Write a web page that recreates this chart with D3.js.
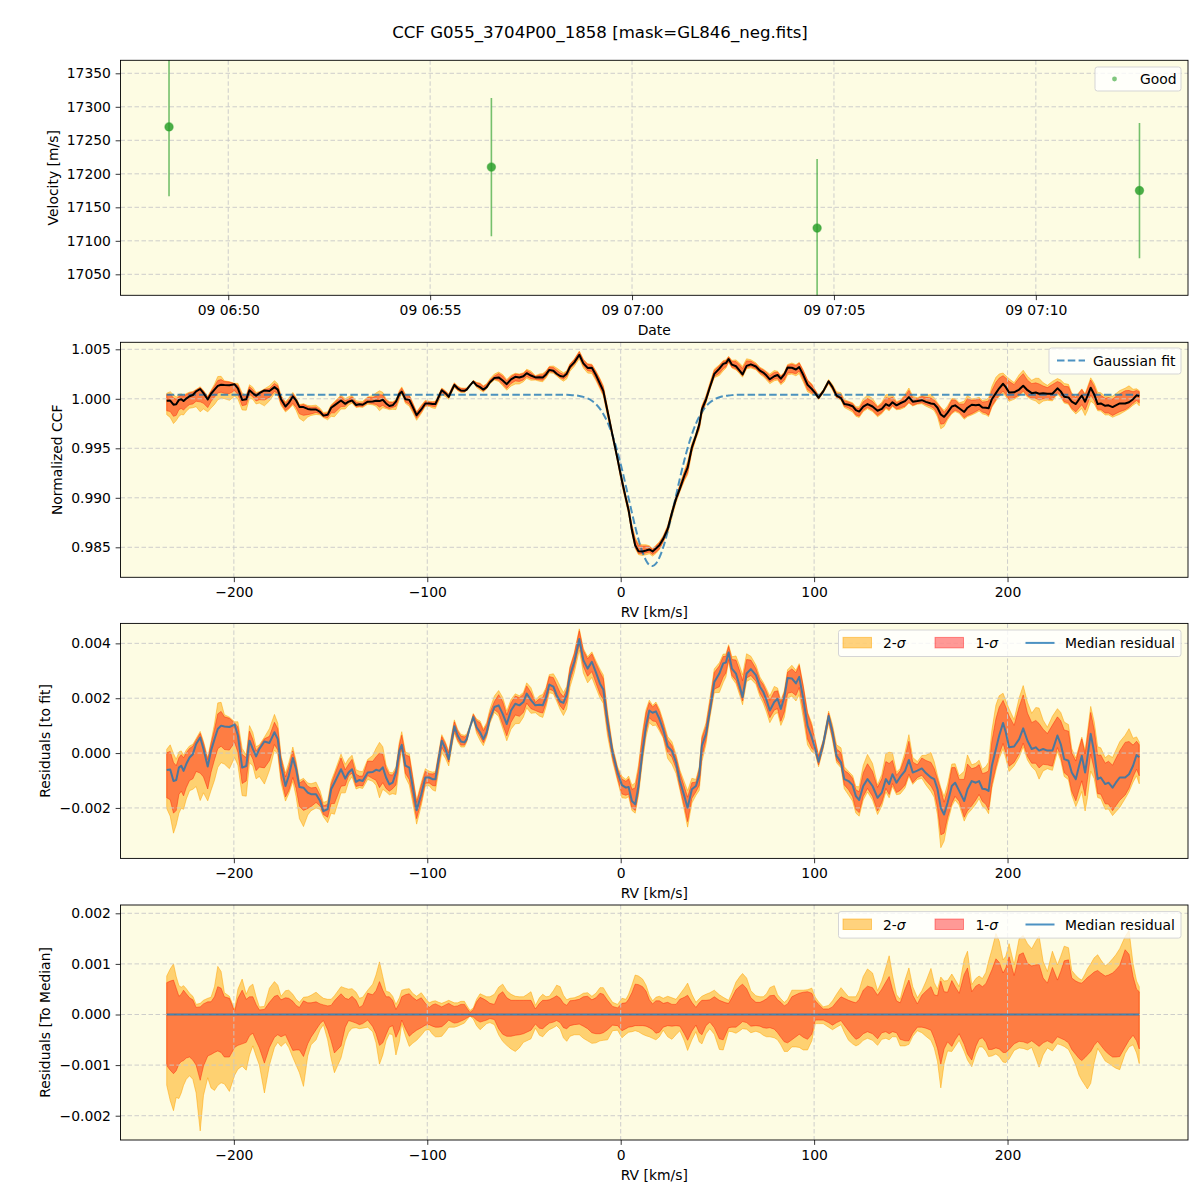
<!DOCTYPE html>
<html><head><meta charset="utf-8">
<script src="https://cdn.jsdelivr.net/npm/d3@7"></script>
<style>
body{margin:0;background:#fff;}
text{font-family:"DejaVu Sans",sans-serif;fill:#000;}
</style></head><body>
<svg id="chart" width="1200" height="1200"></svg>
<script>
// ---------------- DATA ----------------
const title = "CCF G055_3704P00_1858 [mask=GL846_neg.fits]";

// Top panel: RV time series
const obsTimes = ["2023-01-09T06:48:32Z","2023-01-09T06:56:31Z","2023-01-09T07:04:35Z","2023-01-09T07:12:34Z"];
const obsVel = [17270, 17210, 17119, 17175];
const obsErr = [103.5, 103, 103, 101];
const velTicks = [17050, 17100, 17150, 17200, 17250, 17300, 17350];

// RV grid [km/s]
const rv = [
-234.7,-232.9,-231.2,-229.8,-228.4,-227.2,-226,-224.6,-222.9,-221.2,
-219.5,-217.4,-215.7,-213.5,-211.8,-210,-208.3,-206.6,-204.9,-202.3,
-199.6,-197.9,-195.7,-193.6,-191.9,-190.2,-188.5,-186.8,-184.2,-181.6,
-179,-177.3,-175.6,-173.3,-171.6,-169.5,-167.8,-166.1,-164,-161.8,
-160.1,-157.5,-155.4,-153.7,-151.5,-149.7,-148,-144.6,-142.4,-140.7,
-138.9,-136.8,-135.1,-133.4,-130.8,-128.2,-126.5,-124.7,-123,-121.3,
-119.6,-117.9,-116.2,-114.4,-113.2,-111.3,-109.3,-107.6,-105.5,-103.1,
-101,-99,-97.3,-95.8,-94.1,-92.5,-90.6,-88.9,-87.2,-86,
-84.3,-82.6,-80.8,-79.6,-77.9,-76.2,-74.5,-72.7,-71,-69.3,
-67.6,-65.3,-63.1,-61,-58.9,-56.7,-54.5,-52.4,-50.3,-48.6,
-46.4,-44.1,-42,-40.3,-38.6,-36.9,-34.8,-33.1,-31.3,-29.6,
-27.9,-26.2,-24,-21.4,-19.3,-17.1,-14.9,-12.8,-10.7,-9,
-6.8,-4.2,-1.6,0.65,2.7,4.1,5.8,7.5,9.2,11.3,
13.1,14.8,16.5,18.2,20,22,24.3,26.5,28.6,30.6,
32.9,34.6,36.8,38.9,40.6,42,44.1,46.1,48.4,51,
53,54.4,55.8,57.5,59.6,61.6,63,65.1,67.3,69.9,
72,73.7,75.4,77.1,79.4,81.1,82.8,84.6,86.3,88.5,
90.6,92.3,94.4,96.6,98.8,100.6,102.3,104.7,107.5,109.5,
111.6,113.9,115.6,117.8,119.9,121.6,123.3,125.4,127.6,130.2,
132.8,135,137.1,138.8,140.5,142.6,144.5,147,149,151,
153.4,155.7,157.8,160.4,162.1,163.8,165.5,167.2,169,171.2,
172.9,175,177.6,179.3,181.5,183.6,185.3,187,188.8,190.2,
191.9,194,195.7,197.7,199.1,200.8,203.4,206,208.1,210.3,
212.5,214.6,216.3,218.4,220.6,223.2,225.8,227.5,229.3,231.5,
233.2,235.3,237,238.4,240.1,241.3,243,244.8,246.6,248.2,
250.5,252.2,254.3,256,258,260.8,262.8,264.9,266.7,268.1];

// Median normalized CCF
const ccfMedian = [
0.99980,0.99982,0.99940,0.99944,0.99989,0.99996,0.99977,1.00002,1.00026,1.00038,
1.00075,1.00099,1.00057,0.99993,1.00051,1.00093,1.00130,1.00142,1.00139,1.00137,
1.00146,1.00106,0.99989,0.99995,1.00087,1.00057,1.00030,1.00057,1.00084,1.00079,
1.00118,1.00093,0.99996,0.99922,0.99959,1.00024,0.99983,0.99918,0.99916,0.99898,
0.99892,0.99892,0.99867,0.99830,0.99838,0.99910,0.99934,0.99983,0.99949,0.99971,
0.99983,0.99937,0.99944,0.99940,0.99971,0.99973,0.99981,0.99977,0.99990,0.99953,
0.99928,0.99934,0.99971,1.00051,1.00072,0.99996,0.99989,0.99922,0.99834,0.99892,
0.99953,0.99953,0.99947,0.99947,1.00020,1.00087,1.00057,1.00020,1.00093,1.00140,
1.00106,1.00084,1.00081,1.00093,1.00136,1.00173,1.00136,1.00118,1.00093,1.00118,
1.00167,1.00210,1.00216,1.00185,1.00148,1.00197,1.00222,1.00216,1.00228,1.00259,
1.00235,1.00216,1.00218,1.00216,1.00246,1.00292,1.00284,1.00253,1.00230,1.00224,
1.00254,1.00322,1.00368,1.00445,1.00358,1.00312,1.00313,1.00240,1.00152,1.00080,
0.99875,0.99631,0.99390,0.99172,0.98992,0.98873,0.98674,0.98521,0.98460,0.98457,
0.98467,0.98478,0.98458,0.98487,0.98520,0.98585,0.98685,0.98849,0.98989,0.99093,
0.99223,0.99304,0.99508,0.99628,0.99737,0.99894,0.99993,1.00117,1.00252,1.00305,
1.00353,1.00361,1.00401,1.00345,1.00329,1.00283,1.00246,1.00332,1.00348,1.00326,
1.00284,1.00265,1.00235,1.00197,1.00228,1.00240,1.00203,1.00246,1.00316,1.00314,
1.00296,1.00320,1.00240,1.00142,1.00099,1.00057,1.00010,1.00075,1.00177,1.00118,
1.00032,1.00008,0.99947,0.99940,0.99925,0.99885,0.99871,0.99922,0.99947,0.99922,
0.99879,0.99898,0.99947,0.99929,0.99965,0.99934,0.99955,0.99977,1.00017,0.99971,
0.99978,0.99986,0.99969,0.99953,0.99947,0.99910,0.99842,0.99818,0.99861,0.99922,
0.99934,0.99904,0.99867,0.99910,0.99940,0.99934,0.99940,0.99912,0.99910,0.99904,
0.99996,1.00057,1.00106,1.00152,1.00118,1.00063,1.00066,1.00093,1.00132,1.00087,
1.00057,1.00063,1.00051,1.00057,1.00051,1.00051,1.00106,1.00075,1.00020,1.00014,
0.99971,0.99947,0.99996,1.00032,0.99971,1.00026,1.00112,1.00044,0.99947,0.99953,
0.99929,0.99934,0.99916,0.99934,0.99953,0.99953,0.99965,0.99996,1.00035,1.00027];

// Gaussian fit curve
const fitRv = [-234.7,-31.3,-29.6,-27.9,-26.2,-24,-21.4,-19.3,-17.1,-14.9,-12.8,-10.7,-9,-6.8,-4.2,-1.6,0.65,2.7,4.1,5.8,7.5,9.2,11.3,13.1,14.8,16.5,18.2,20,22,24.3,26.5,28.6,30.6,32.9,34.6,36.8,38.9,40.6,42,44.1,46.1,48.4,51,53,54.4,55.8,57.5,59.6,61.6,268.1];
const fitCcf = [1.00042,1.00042,1.000407,1.000399,1.000385,1.000354,1.000287,1.000194,1.000040,0.999801,0.999463,0.998987,0.998477,0.997621,0.996290,0.994605,0.992892,0.991178,0.989965,0.988493,0.987081,0.985796,0.984484,0.983674,0.983226,0.983110,0.983347,0.983950,0.985004,0.986610,0.988407,0.990226,0.991945,0.993795,0.995026,0.996404,0.997484,0.998192,0.998670,0.999233,0.999624,0.999933,1.000153,1.000257,1.000306,1.000342,1.000371,1.000394,1.000406,1.00042];

// Median residual to fit, in units of 1e-4
const residMedian = [
-6.2,-6,-10.2,-9.8,-5.3,-4.6,-6.5,-4,-1.6,-0.4,
3.3,5.7,1.5,-4.9,0.9,5.1,8.8,10,9.7,9.5,
10.4,6.4,-5.3,-4.7,4.5,1.5,-1.2,1.5,4.2,3.7,
7.6,5.1,-4.6,-12,-8.3,-1.8,-5.9,-12.4,-12.6,-14.4,
-15,-15,-17.5,-21.2,-20.4,-13.2,-10.8,-5.9,-9.3,-7.1,
-5.9,-10.5,-9.8,-10.2,-7.1,-6.9,-6.1,-6.5,-5.2,-8.9,
-11.4,-10.8,-7.1,0.9,3,-4.6,-5.3,-12,-20.8,-15,
-8.9,-8.9,-9.5,-9.5,-2.2,4.5,1.5,-2.2,5.1,9.8,
6.4,4.2,3.9,5.1,9.4,13.1,9.4,7.6,5.1,7.6,
12.5,16.8,17.4,14.3,10.6,15.5,18,17.4,18.6,21.7,
19.3,17.4,17.6,17.4,20.4,25,24.2,21.1,18.8,18.3,
21.4,28.4,33.3,41.6,33.9,30.8,33.3,29.4,25.3,23.2,
11.3,0.2,-7.1,-11.7,-12.6,-12.4,-17.5,-18.7,-12,0.9,
10,15.5,14.7,15.2,12.5,8.5,2.4,0.8,-3.4,-10.2,
-15.7,-19.9,-13.2,-12,-8.2,2.7,7,15.5,25.9,29,
32.7,33,36.7,30.8,29,24.2,20.4,29,30.6,28.4,
24.2,22.3,19.3,15.5,18.6,19.8,16.1,20.4,27.4,27.2,
25.4,27.8,19.8,10,5.7,1.5,-3.2,3.3,13.5,7.6,
-1,-3.4,-9.5,-10.2,-11.7,-15.7,-17.1,-12,-9.5,-12,
-16.3,-14.4,-9.5,-11.3,-7.7,-10.8,-8.7,-6.5,-2.5,-7.1,
-6.4,-5.6,-7.3,-8.9,-9.5,-13.2,-20,-22.4,-18.1,-12,
-10.8,-13.8,-17.5,-13.2,-10.2,-10.8,-10.2,-13,-13.2,-13.8,
-4.6,1.5,6.4,11,7.6,2.1,2.4,5.1,9,4.5,
1.5,2.1,0.9,1.5,0.9,0.9,6.4,3.3,-2.2,-2.8,
-7.1,-9.5,-4.6,-1,-7.1,-1.6,7,0.2,-9.5,-8.9,
-11.3,-10.8,-12.6,-10.8,-8.9,-8.9,-7.7,-4.6,-0.7,-1.5];

// Percentile offsets relative to the median, units of 1e-4
const upper2 = [
7.6,9,10,7.5,5.7,5.4,5.7,5.1,4.2,3.6,
2,2.2,2.8,3.2,3.4,5.5,9.5,8.5,4.3,3.6,
1,5,7,4,5.5,6,3.5,1.5,1.6,5.2,
6.5,5.8,3.6,4.7,4.8,4,3,2.4,3.4,3.5,
3.8,4.4,3.7,3.2,3,3,3.7,5.5,5.2,5,
5.1,4.4,3.2,3.4,4.8,6,7.8,10.4,7.5,4.6,
4.4,3.6,2,3.3,4.8,5,5.1,4.2,3.6,4.3,
3.2,2.3,2.6,2.7,2.4,2.2,2.5,2.8,2.5,2.3,
2.3,2.6,2.6,1.8,0.8,1.3,3,4.1,3.8,3.5,
3.5,4,5.4,6,4.7,4,3.6,3.5,3.5,3.9,
4.5,1.8,3.3,4,3.5,3.6,4.7,5.8,5.5,3.8,
2.9,3.2,3.3,3.7,4.2,4.3,3.6,4.2,5.3,5.3,
3.9,2.4,2,3.2,3,4,5.8,7.8,7.6,7,
5.8,3.8,2.7,3.4,3.6,3.2,3.6,3.3,3,4,
5.2,6.2,4,2.4,3.1,3.6,4,4.3,4.8,3.9,
3.4,3.1,2.8,4.3,6.4,7.5,8.1,7.2,4.7,3.7,
3.5,3.5,4.1,5.3,5.7,3.9,3.1,2.4,3,4.8,
4.8,4.8,4.8,4.9,5.2,3.4,2.5,1.5,1.8,2.7,
4,5.3,4.5,3.5,3.5,3.5,4.8,7.5,9,8.2,
4.7,6.6,9.3,11.6,7.8,3.9,3,6.8,9.2,5.5,
3.3,4.7,6.5,9.1,6.3,5,7.4,6.6,6.7,8,
6.9,5.5,10.9,12.5,5.9,7.1,7.6,7.1,8.3,10.5,
12.8,16,14.5,10.8,11.5,14,9.8,15,15.6,14,
13,14.5,15.5,10.5,8.5,12.5,9.8,11.5,13.5,13.2,
8.7,7.7,7.1,6.8,8,9,10,11.2,11.8,10.8,
9.6,10.1,11,11.8,13,15.4,16.6,10,6.6,5.5];
const upper1 = [
6.3,6.6,6.8,5.2,3.6,4,4.8,4.1,3.3,2.9,
1.4,1.5,2.1,2.5,2.5,3.5,5.5,5.2,3.5,3.2,
0.6,3.2,4.8,3,3.5,3.5,2,0.9,1,2.4,
3.6,3.8,2.9,3.3,3.2,2.6,1.8,1.4,2.7,2.3,
2.3,2.5,2.1,1.9,1.7,1.8,2.7,4.1,3.2,3,
3.6,2.8,1.4,1.8,4.2,3.9,4.7,6.5,4.8,3.5,
3.5,2.8,1,2.2,3.5,3.9,4.1,3.4,2.8,3.3,
2.2,1.4,1.9,2.1,1.8,1.5,1.9,2.2,1.8,1.6,
1.7,2,2,1.3,0.4,1,2.5,3.4,3.1,2.7,
2.2,2,3.9,4.5,3.3,2.8,2.8,2.8,2.8,2.8,
2.8,1.1,2.2,2.8,2.8,2.9,3.3,3.7,3.2,2.2,
1.8,2.7,2.8,3,3.5,3.6,2.9,3.3,4.2,4,
2.8,1.6,1.3,2.2,2.3,3,4.3,6,5.9,5.5,
4.6,2.9,2.1,2.7,2.7,2.2,2.4,2,2,3,
3.4,3.8,2.4,1.4,2.3,2.8,2.8,2.9,3.5,2.8,
2.5,2.3,2.2,3.3,4.9,5.6,6,5.1,3.3,2.4,
2.4,2.7,3.1,3.7,3.8,2.9,2.4,1.7,2.1,3.5,
3.9,4.2,4.4,4.5,4.2,2.7,2,1.1,1.1,1.5,
2.5,3.5,3.2,2.8,2.5,2.3,3,4.8,5.6,5.3,
3.8,5,6.4,7.5,5,2.7,2.3,5,6.8,3.8,
2.1,3.8,4.6,5.5,3.9,3.7,6.6,4.5,4.4,6.7,
5.5,4.2,7.9,9.2,4.5,5.6,6,5.5,6.1,7.3,
8.8,11,10.3,8.2,9.2,11.4,7.7,11.8,12.2,10.1,
9.6,9.8,9.9,7.2,6.2,9.3,6.8,8.5,10.6,10.8,
7.2,6.6,6.3,6.2,6.8,7.3,7.8,8.4,8.7,8.2,
7.6,7.8,8.2,8.8,9.7,12.8,11.9,7.5,5,4.5];
const lower1 = [
-10.1,-11,-11.7,-11.1,-9.8,-9.3,-9.1,-8.6,-8.4,-9,
-10,-13,-10.2,-8.2,-7.9,-7.5,-7.2,-7.5,-8.4,-8.4,
-6.5,-6.1,-5.8,-5.5,-4.2,-3.7,-5.2,-6.6,-9.6,-6.5,
-4.5,-4,-4.4,-4,-5.4,-7.1,-7,-7,-8.3,-5.8,
-4.5,-3,-1.8,-1.2,-3,-5.2,-7.6,-6.2,-2.5,-1.2,
-1.4,-1.7,-2,-1.8,-1.1,-2.4,-3.8,-6.1,-5.6,-4,
-2.5,-2.2,-4.5,-3,-1.1,-2.8,-4.3,-3.7,-3.1,-2.6,
-2.1,-2,-2.3,-2.5,-2.5,-2.4,-1.8,-1.1,-1.5,-1.7,
-1.6,-1.3,-1,-0.7,-0.3,-0.5,-1.1,-1.5,-1.3,-1.1,
-0.8,-1,-2.8,-3.9,-4.3,-4.3,-4.1,-4,-3.8,-3.5,
-3.1,-1.9,-2.7,-2.8,-2.2,-1.7,-1.5,-1.2,-1.6,-2.6,
-2.8,-2.2,-2,-1.9,-2.3,-2.8,-3.6,-3.8,-3.8,-3.6,
-3,-2.1,-2.2,-3.2,-2.8,-2.5,-2.4,-2.2,-2.2,-2.2,
-2.3,-2.6,-3,-3.7,-3.5,-2.5,-2.2,-2.3,-2.2,-2.3,
-3.8,-5.1,-3.3,-2.1,-3.6,-4,-2.2,-1.5,-2.6,-4.8,
-5,-3.8,-2.6,-2.5,-2.5,-1.9,-1.4,-1.6,-2.3,-2.2,
-2.3,-2.6,-2.7,-2.6,-2.9,-3.6,-4.5,-5.4,-5.6,-5,
-4.4,-3.9,-4.5,-4.9,-3.9,-1.1,-1.1,-1.1,-1.6,-2.1,
-1.6,-1.2,-2.1,-3.2,-4.2,-4.9,-4.6,-3.8,-3.4,-3.8,
-4.8,-3.6,-3.4,-3.8,-3.4,-3.6,-4.9,-5.2,-5.2,-3.7,
-2.5,-2.5,-2.7,-3.1,-4.7,-6.7,-9.8,-6.8,-5.4,-6.3,
-5,-3.8,-5.9,-7.8,-9,-6.3,-4.9,-4.6,-5.5,-6.9,
-6.9,-6.6,-6.8,-7.5,-7.5,-6.9,-5.8,-5.3,-5.4,-5.7,
-5.2,-5.8,-6.3,-5.6,-5.2,-5.7,-4.4,-4.7,-5,-5.6,
-6.9,-7.9,-8.7,-9.1,-8.5,-8,-7.3,-6.1,-5.3,-6.1,
-7.2,-7.8,-8.4,-8.4,-8.3,-6.4,-5.1,-4.1,-5.2,-6.8];
const lower2 = [
-14,-17,-19,-16.4,-16.6,-15.5,-14,-12.8,-12.1,-12.8,
-15.5,-23,-16,-12.5,-14.5,-15,-14,-13.5,-13.7,-15.2,
-12,-10.8,-10.2,-11,-8,-6.2,-8.2,-10,-15.5,-10,
-6.5,-5.5,-6.3,-5.5,-6.5,-8.5,-10,-11.5,-14.2,-8.2,
-6,-5,-3,-2,-5,-8.7,-11.5,-8.6,-5.2,-3.5,
-2.7,-2.6,-2.8,-2.7,-2.5,-3.4,-5.6,-9.8,-8,-5.2,
-3.8,-4,-8,-5.3,-1.8,-4.2,-6.3,-5.7,-5.1,-4.1,
-3.1,-3,-3.9,-4.4,-4.4,-4.3,-3.4,-2.5,-2.5,-2.5,
-2.3,-2,-1.7,-1.1,-0.3,-0.9,-2.2,-3,-2.4,-1.8,
-1.6,-2,-4,-5.3,-6.1,-6.8,-7.3,-6.6,-5.5,-5.2,
-4.8,-2.7,-4.1,-4.4,-3.6,-3,-2.6,-2.2,-2.9,-4.6,
-5.3,-4.3,-4,-4,-4.7,-5.2,-5.7,-5.6,-5.2,-5.1,
-5,-3.2,-3.1,-4.6,-3.9,-3.5,-3.4,-3.2,-3.4,-3.9,
-4.2,-4.4,-4.7,-5,-4.4,-3.1,-4.4,-4.9,-4,-3.2,
-5.2,-7.1,-5,-3.4,-5.4,-5.8,-3.8,-2.8,-3.9,-6.9,
-7,-5.2,-3.3,-3.4,-3.7,-3.2,-2.8,-2.9,-3.6,-3.3,
-3.6,-4.1,-4.4,-4.4,-4.6,-5,-6,-7.3,-7.3,-6.4,
-6.4,-6.5,-7,-7,-5.2,-1.8,-1.8,-1.8,-2.5,-3,
-2.5,-2,-3.5,-5.1,-5.8,-6.2,-5.9,-5.1,-4.7,-5.1,
-6.1,-4.9,-4.7,-5,-4.4,-4.4,-6.2,-6.2,-5.9,-4.3,
-3.2,-3.6,-4.3,-5.1,-6.6,-9.3,-14.5,-9.7,-7.2,-7.3,
-6.3,-5.1,-7.3,-9,-10.3,-7.8,-6.4,-6.4,-7.2,-8.3,
-8.2,-7.8,-8.3,-9.4,-9.5,-8.8,-7.1,-6.6,-6.7,-7,
-6.5,-8.6,-10.4,-8,-6.6,-7.2,-5.8,-6,-6.3,-6.9,
-8.2,-10,-12,-13,-14,-14.7,-13.6,-9.5,-6.7,-7.7,
-9.2,-9.6,-10.2,-10.6,-10.9,-7.7,-6.4,-6,-7.6,-9.7];
const RES_UNIT = 1e-4;

// Tick labels
const rvTicks = [-200, -100, 0, 100, 200];
const ccfTicks = [0.985, 0.990, 0.995, 1.000, 1.005];
const resTicks = [-0.002, 0.000, 0.002, 0.004];
const medTicks = [-0.002, -0.001, 0.000, 0.001, 0.002];

// ---------------- LAYOUT ----------------
const svg = d3.select("#chart");
svg.append("rect").attr("width", 1200).attr("height", 1200).attr("fill", "#ffffff");
const L = 120.5, R = 1188, PH = 235;
const BG = "#fdfce3";
const FS = "13.9px";
const TICK = 4.86, PAD = 5.2;

svg.append("text").attr("x", 600).attr("y", 38).attr("text-anchor", "middle")
  .style("font-size", "16.6px").text(title);

const xRV = d3.scaleLinear().domain([-258.6, 293.3]).range([L, R]);

function makePanel(name, top, x, yDomain) {
  const y = d3.scaleLinear().domain(yDomain).range([top + PH, top]);
  const g = svg.append("g");
  svg.append("clipPath").attr("id", "clip-" + name).append("rect")
    .attr("x", L).attr("y", top).attr("width", R - L).attr("height", PH);
  g.append("rect").attr("x", L).attr("y", top).attr("width", R - L).attr("height", PH).attr("fill", BG);
  const plot = g.append("g").attr("clip-path", `url(#clip-${name})`);
  return { g, plot, y, x, top };
}
function addGrid(p, xTicks, yTicks) {
  const gg = p.plot.append("g");
  gg.selectAll("line.gx").data(xTicks).join("line")
    .attr("x1", d => p.x(d)).attr("x2", d => p.x(d)).attr("y1", p.top).attr("y2", p.top + PH)
    .attr("stroke", "#c8c8c8").attr("stroke-width", 0.9).attr("stroke-dasharray", "4.5,2.5");
  gg.selectAll("line.gy").data(yTicks).join("line")
    .attr("x1", L).attr("x2", R).attr("y1", d => p.y(d)).attr("y2", d => p.y(d))
    .attr("stroke", "#c8c8c8").attr("stroke-width", 0.9).attr("stroke-dasharray", "4.5,2.5");
}
function addAxes(p, xTicks, xFmt, yTicks, yFmt, xLabel, yLabel, yLabelX) {
  const ax = p.g.append("g").attr("transform", `translate(0,${p.top + PH})`)
    .call(d3.axisBottom(p.x).tickValues(xTicks).tickFormat(xFmt).tickSize(TICK).tickPadding(PAD).tickSizeOuter(0));
  const ay = p.g.append("g").attr("transform", `translate(${L},0)`)
    .call(d3.axisLeft(p.y).tickValues(yTicks).tickFormat(yFmt).tickSize(TICK).tickPadding(PAD - 0.5).tickSizeOuter(0));
  [ax, ay].forEach(a => {
    a.select(".domain").remove();
    a.selectAll("text").style("font-size", FS).style("font-family", '"DejaVu Sans", sans-serif');
    a.selectAll("line").attr("stroke", "#000").attr("stroke-width", 0.8);
  });
  p.g.append("rect").attr("x", L).attr("y", p.top).attr("width", R - L).attr("height", PH)
    .attr("fill", "none").attr("stroke", "#000").attr("stroke-width", 0.9);
  p.g.append("text").attr("x", (L + R) / 2).attr("y", p.top + PH + 35).attr("text-anchor", "middle")
    .attr("dominant-baseline", "central").style("font-size", FS).text(xLabel);
  p.g.append("text").attr("transform", `translate(${yLabelX},${p.top + PH / 2}) rotate(-90)`)
    .attr("text-anchor", "middle").attr("dominant-baseline", "central").style("font-size", FS).text(yLabel);
}
function legendBox(p, x0, y0, w, h) {
  const lg = p.g.append("g");
  lg.append("rect").attr("x", x0).attr("y", y0).attr("width", w).attr("height", h).attr("rx", 2.5)
    .attr("fill", "#ffffff").attr("fill-opacity", 0.8).attr("stroke", "#d5d5d5").attr("stroke-width", 1);
  return lg;
}
function sigmaLabel(lg, x, y, n) {
  const t = lg.append("text").attr("x", x).attr("y", y).attr("dominant-baseline", "central").style("font-size", FS);
  t.append("tspan").text(n + "-");
  t.append("tspan").style("font-style", "italic").text("σ");
}

// ---------------- PANEL 1 ----------------
const tParse = d3.utcParse("%Y-%m-%dT%H:%M:%SZ");
const tData = obsTimes.map(tParse);
const tExt = d3.extent(tData);
const tPad = (tExt[1] - tExt[0]) * 0.05;
const xTime = d3.scaleUtc().domain([new Date(+tExt[0] - tPad), new Date(+tExt[1] + tPad)]).range([L, R]);
const p1 = makePanel("p1", 60.3, xTime, [17018.7, 17369.4]);
const timeTicks = xTime.ticks(d3.utcMinute.every(5));
addGrid(p1, timeTicks, velTicks);
const obs = tData.map((t, i) => ({ t, v: obsVel[i], e: obsErr[i] }));
p1.plot.selectAll("line.err").data(obs).join("line")
  .attr("x1", d => xTime(d.t)).attr("x2", d => xTime(d.t))
  .attr("y1", d => p1.y(d.v - d.e)).attr("y2", d => p1.y(d.v + d.e))
  .attr("stroke", "#2ca02c").attr("stroke-opacity", 0.65).attr("stroke-width", 1.6);
p1.plot.selectAll("circle.pt").data(obs).join("circle")
  .attr("cx", d => xTime(d.t)).attr("cy", d => p1.y(d.v)).attr("r", 4.2)
  .attr("fill", "#2ca02c").attr("fill-opacity", 0.85)
  .attr("stroke", "#2ca02c").attr("stroke-opacity", 0.45).attr("stroke-width", 1.2);
addAxes(p1, timeTicks, d3.utcFormat("%d %H:%M"), velTicks, d3.format("d"), "Date", "Velocity [m/s]", 53);
{
  const lg = legendBox(p1, 1095, 67, 86, 24);
  lg.append("circle").attr("cx", 1114.5).attr("cy", 79).attr("r", 2.4).attr("fill", "#2ca02c").attr("fill-opacity", 0.6);
  lg.append("text").attr("x", 1140).attr("y", 79).attr("dominant-baseline", "central").style("font-size", FS).text("Good");
}

// ---------------- shared band drawing ----------------
const rows = rv.map((r, i) => ({
  rv: r, ccf: ccfMedian[i], res: residMedian[i] * RES_UNIT,
  u2: upper2[i] * RES_UNIT, u1: upper1[i] * RES_UNIT, l1: lower1[i] * RES_UNIT, l2: lower2[i] * RES_UNIT
}));
function drawBands(p, base) {
  const a2 = d3.area().x(d => xRV(d.rv)).y0(d => p.y(base(d) + d.l2)).y1(d => p.y(base(d) + d.u2));
  const a1 = d3.area().x(d => xRV(d.rv)).y0(d => p.y(base(d) + d.l1)).y1(d => p.y(base(d) + d.u1));
  p.plot.append("path").datum(rows).attr("d", a2)
    .attr("fill", "#ffa500").attr("fill-opacity", 0.5).attr("stroke", "#ffa500").attr("stroke-opacity", 0.5).attr("stroke-width", 1);
  p.plot.append("path").datum(rows).attr("d", a1)
    .attr("fill", "#ff0000").attr("fill-opacity", 0.4).attr("stroke", "#ff2000").attr("stroke-opacity", 0.45).attr("stroke-width", 1);
}
const rvFmt = d3.format("d");
const f3 = d3.format(".3f");

// ---------------- PANEL 2 ----------------
const p2 = makePanel("p2", 342.3, xRV, [0.98197, 1.005707]);
drawBands(p2, d => d.ccf);
addGrid(p2, rvTicks, ccfTicks);
const fitRows = fitRv.map((r, i) => ({ rv: r, v: fitCcf[i] }));
p2.plot.append("path").datum(fitRows)
  .attr("d", d3.line().x(d => xRV(d.rv)).y(d => p2.y(d.v)).curve(d3.curveMonotoneX))
  .attr("fill", "none").attr("stroke", "#1f77b4").attr("stroke-opacity", 0.8).attr("stroke-width", 2).attr("stroke-dasharray", "7.5,3.3");
p2.plot.append("path").datum(rows)
  .attr("d", d3.line().x(d => xRV(d.rv)).y(d => p2.y(d.ccf)))
  .attr("fill", "none").attr("stroke", "#000").attr("stroke-width", 2).attr("stroke-linejoin", "round");
addAxes(p2, rvTicks, rvFmt, ccfTicks, f3, "RV [km/s]", "Normalized CCF", 57);
{
  const lg = legendBox(p2, 1049, 348, 132, 26);
  lg.append("line").attr("x1", 1057).attr("x2", 1085).attr("y1", 360.5).attr("y2", 360.5)
    .attr("stroke", "#1f77b4").attr("stroke-opacity", 0.8).attr("stroke-width", 2).attr("stroke-dasharray", "7.5,3.3");
  lg.append("text").attr("x", 1093).attr("y", 360.5).attr("dominant-baseline", "central").style("font-size", FS).text("Gaussian fit");
}

// ---------------- PANEL 3 & 4 ----------------
function resLegend(p, top) {
  const lg = legendBox(p, 838.5, top + 6.6, 342.5, 26.5);
  const cy = top + 19.5;
  lg.append("rect").attr("x", 843).attr("y", cy - 5.5).attr("width", 28.5).attr("height", 10.5)
    .attr("fill", "#ffa500").attr("fill-opacity", 0.5).attr("stroke", "#ffa500").attr("stroke-opacity", 0.5);
  sigmaLabel(lg, 883, cy, 2);
  lg.append("rect").attr("x", 935).attr("y", cy - 5.5).attr("width", 28.5).attr("height", 10.5)
    .attr("fill", "#ff0000").attr("fill-opacity", 0.4).attr("stroke", "#ff0000").attr("stroke-opacity", 0.4);
  sigmaLabel(lg, 975.5, cy, 1);
  lg.append("line").attr("x1", 1025.5).attr("x2", 1054.5).attr("y1", cy).attr("y2", cy)
    .attr("stroke", "#1f77b4").attr("stroke-opacity", 0.8).attr("stroke-width", 2);
  lg.append("text").attr("x", 1065).attr("y", cy).attr("dominant-baseline", "central").style("font-size", FS).text("Median residual");
}

const p3 = makePanel("p3", 623.4, xRV, [-0.00384, 0.004728]);
drawBands(p3, d => d.res);
addGrid(p3, rvTicks, resTicks);
p3.plot.append("path").datum(rows)
  .attr("d", d3.line().x(d => xRV(d.rv)).y(d => p3.y(d.res)))
  .attr("fill", "none").attr("stroke", "#1f77b4").attr("stroke-opacity", 0.8).attr("stroke-width", 2).attr("stroke-linejoin", "round");
addAxes(p3, rvTicks, rvFmt, resTicks, f3, "RV [km/s]", "Residuals [to fit]", 45);
resLegend(p3, 623.4);

const p4 = makePanel("p4", 905, xRV, [-0.00248, 0.002164]);
drawBands(p4, d => 0);
addGrid(p4, rvTicks, medTicks);
p4.plot.append("path").datum(rows)
  .attr("d", d3.line().x(d => xRV(d.rv)).y(d => p4.y(0)))
  .attr("fill", "none").attr("stroke", "#1f77b4").attr("stroke-opacity", 0.8).attr("stroke-width", 2);
addAxes(p4, rvTicks, rvFmt, medTicks, f3, "RV [km/s]", "Residuals [To Median]", 45);
resLegend(p4, 905);
</script>
</body></html>
